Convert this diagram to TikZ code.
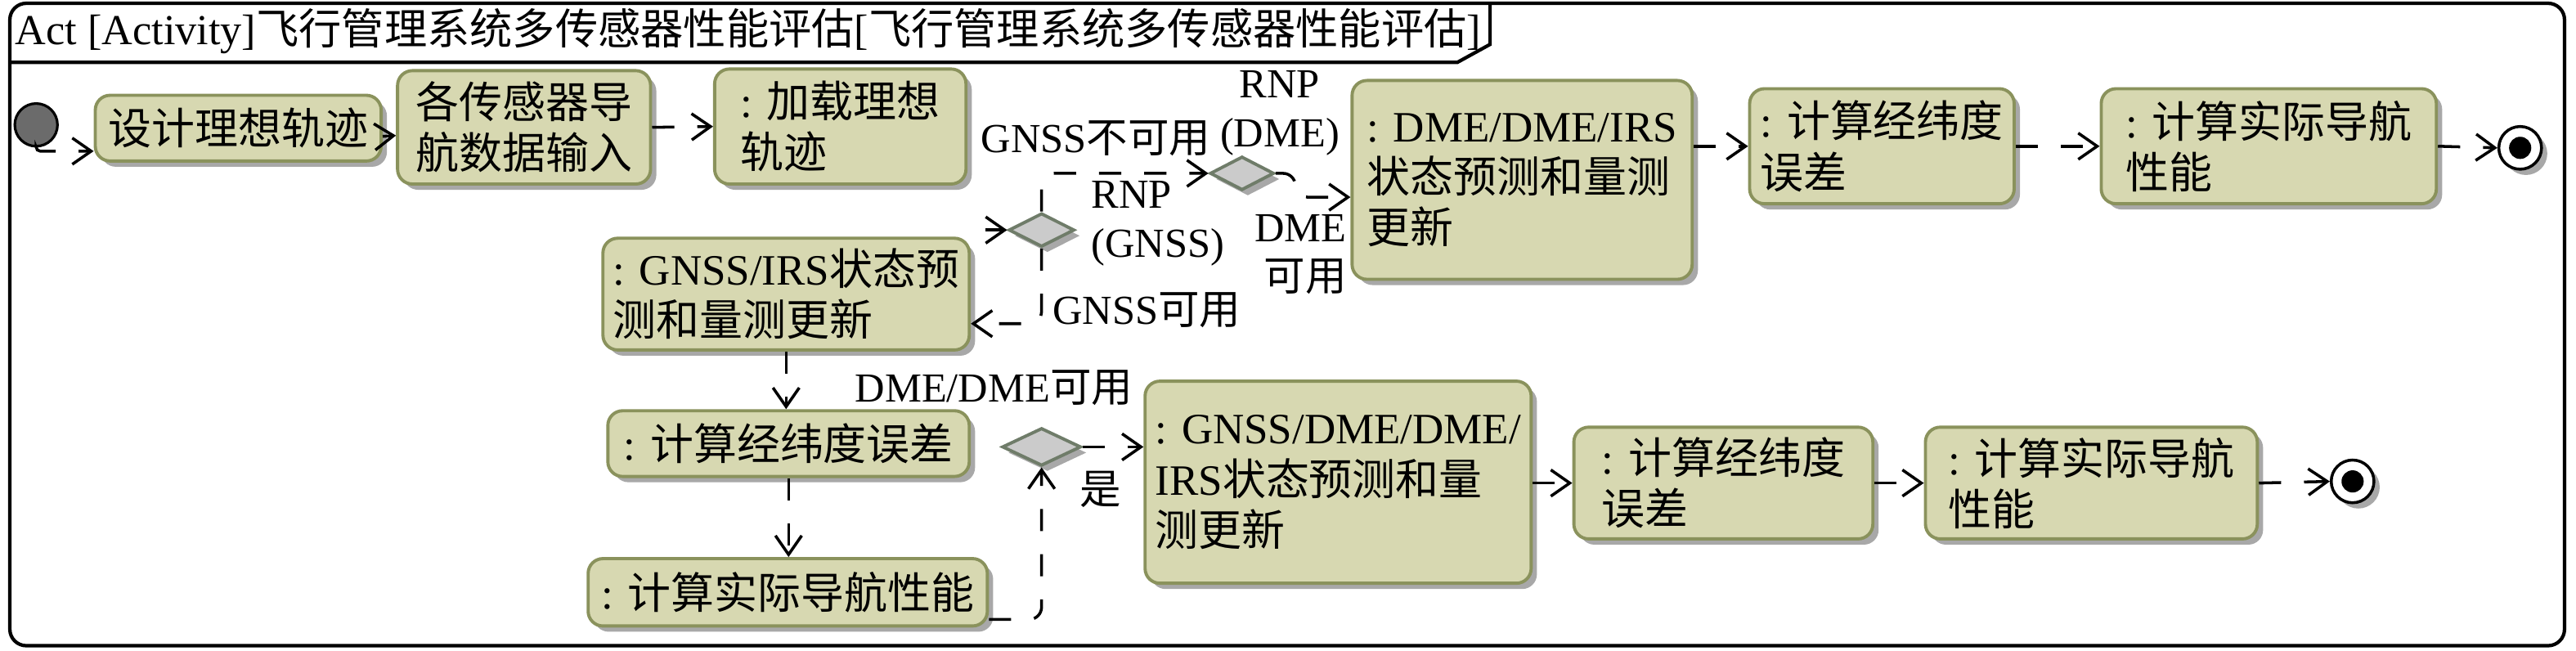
\documentclass[tikz,border=0pt]{standalone}
\usepackage{fontspec}
\setmainfont{Liberation Serif}
\newfontfamily\cjk{Noto Sans CJK SC}
\newcommand{\zh}[1]{{\cjk #1}}
\usetikzlibrary{arrows.meta,shapes.geometric,shadows}
\definecolor{actfill}{HTML}{D7D8B1}
\definecolor{actdraw}{HTML}{8A925C}
\definecolor{shgray}{HTML}{A8A8A8}
\definecolor{decfill}{HTML}{CBCBCB}
\definecolor{decdraw}{HTML}{6F7C69}
\definecolor{initfill}{HTML}{6B6B6B}
\tikzset{
  shad/.style={drop shadow={shadow xshift=0.7mm, shadow yshift=-0.7mm, fill=shgray, opacity=1}},
  act/.style={draw=actdraw, fill=actfill, line width=1.1pt, rounded corners=1.8mm, shad,
    align=left, inner sep=1mm, font=\fontsize{15}{17.6}\selectfont},
  dec/.style={diamond, draw=decdraw, fill=decfill, line width=1.1pt, inner sep=0pt, shad},
  initnode/.style={circle, draw=black, fill=initfill, line width=0.9pt, minimum size=5.2mm, inner sep=0pt},
  finalnode/.style={circle, draw=black, fill=white, line width=1pt, minimum size=5.2mm, inner sep=0pt, shad,
    path picture={\fill[black] (path picture bounding box.center) circle (1.35mm);}},
  conn/.style={draw=black, line width=1pt, dash pattern=on 2.7mm off 2.8mm, rounded corners=1.5mm,
    -{Straight Barb[length=2.3mm,width=3.2mm,line width=1pt]}},
  lbl/.style={font=\fontsize{14.3}{17}\selectfont, inner sep=0pt},
}
\begin{document}
\begin{tikzpicture}[x=0.2mm,y=-0.2mm]
\fill[white] (0,0) rectangle (1568,396);
\useasboundingbox (0,0) rectangle (1568,396);
% frame
\draw[line width=1.2pt, rounded corners=2mm] (6,2) rectangle (1561,393);
\draw[line width=1.2pt] (6,38) -- (887,38) -- (907,27) -- (907,2);
\node[lbl, anchor=west, font=\fontsize{14.8}{17}\selectfont] (title) at (9,19)
  {Act [Activity]\zh{飞行管理系统多传感器性能评估}[\zh{飞行管理系统多传感器性能评估}]};
% nodes
\node[initnode] (init) at (22,76) {};
\node[act, minimum width=34.8mm, minimum height=8mm] (A1) at (145,78) {\zh{设计理想轨迹}};
\node[act, align=center, minimum width=30.8mm, minimum height=13.8mm] (A2) at (319,77.5) {\zh{各传感器导}\\\zh{航数据输入}};
\node[act, minimum width=30.6mm, minimum height=14mm] (A3) at (511.5,77) {: \zh{加载理想}\\\zh{轨迹}};
\node[act, minimum width=41.4mm, minimum height=24.2mm] (A4) at (926.5,109.5) {: DME/DME/IRS\\\zh{状态预测和量测}\\\zh{更新}};
\node[act, minimum width=32.2mm, minimum height=14mm] (A5) at (1145.5,89) {: \zh{计算经纬度}\\\zh{误差}};
\node[act, minimum width=40.8mm, minimum height=14mm] (A6) at (1381,89) {: \zh{计算实际导航}\\\zh{性能}};
\node[finalnode] (F1) at (1534,90) {};
\node[act, minimum width=44.6mm, minimum height=13.6mm] (A7) at (478.5,179) {: GNSS/IRS\zh{状态预}\\\zh{测和量测更新}};
\node[act, minimum width=44mm, minimum height=8mm] (A8) at (480,270) {: \zh{计算经纬度误差}};
\node[act, minimum width=48.6mm, minimum height=8.2mm] (A9) at (479.5,360.5) {: \zh{计算实际导航性能}};
\node[act, minimum width=47mm, minimum height=24.6mm] (A10) at (814.5,293.5) {: GNSS/DME/DME/\\IRS\zh{状态预测和量}\\\zh{测更新}};
\node[act, minimum width=36.4mm, minimum height=13.6mm] (A11) at (1049,294) {: \zh{计算经纬度}\\\zh{误差}};
\node[act, minimum width=40.4mm, minimum height=13.6mm] (A12) at (1273,294) {: \zh{计算实际导航}\\\zh{性能}};
\node[finalnode] (F2) at (1432,293) {};
\node[dec, minimum width=8mm, minimum height=4.1mm] (D1) at (634,140) {};
\node[dec, minimum width=7.8mm, minimum height=4.1mm] (D2) at (756,105.5) {};
\node[dec, minimum width=9.6mm, minimum height=4.6mm] (D3) at (634,272) {};
\coordinate (d1in) at (600,140);
% labels
\node[lbl] (lGNu) at (667,84) {GNSS\zh{不可用}};
\node[lbl, align=center] (lRD) at (779,69) {RNP\\(DME)};
\node[lbl, align=left, anchor=west] (lRG) at (664,136) {RNP\\(GNSS)};
\node[lbl, align=right, anchor=east] (lDA) at (820,155) {DME\\\zh{可用}};
\node[lbl] (lGA) at (698,189) {GNSS\zh{可用}};
\node[lbl] (lDD) at (605,236) {DME/DME\zh{可用}};
\node[lbl] (lYes) at (670,298) {\zh{是}};
% connectors
\draw[conn, rounded corners=0.5mm] (init.south) |- ([yshift=-2.8mm]A1.west);
\draw[conn] ([yshift=-1mm]A1.east) -- ([yshift=-1mm]A2.west);
\draw[conn] (A2.east) -- (A3.west);
\draw[conn] (d1in) -- (D1.west);
\draw[conn] (D1.north) |- (D2.west);
\draw[conn] (D1.south) |- ([yshift=-3.6mm]A7.east);
\draw[conn] (D2.east) -- ++(12,0) |- ([yshift=-2.1mm]A4.west);
\draw[conn] (A4.east |- A5.west) -- (A5.west);
\draw[conn] (A5.east) -- (A6.west);
\draw[conn] (A6.east) -- (F1.west);
\draw[conn] (A7.south) -- (A7.south |- A8.north);
\draw[conn] (A8.south) -- (A8.south |- A9.north);
\draw[conn] ([yshift=-3.3mm]A9.east) -| (D3.south);
\draw[conn] (D3.east) -- (D3.east -| A10.west);
\draw[conn] (A10.east |- A11.west) -- (A11.west);
\draw[conn] (A11.east) -- (A12.west);
\draw[conn] (A12.east) -- (F2.west);
\end{tikzpicture}
\end{document}
